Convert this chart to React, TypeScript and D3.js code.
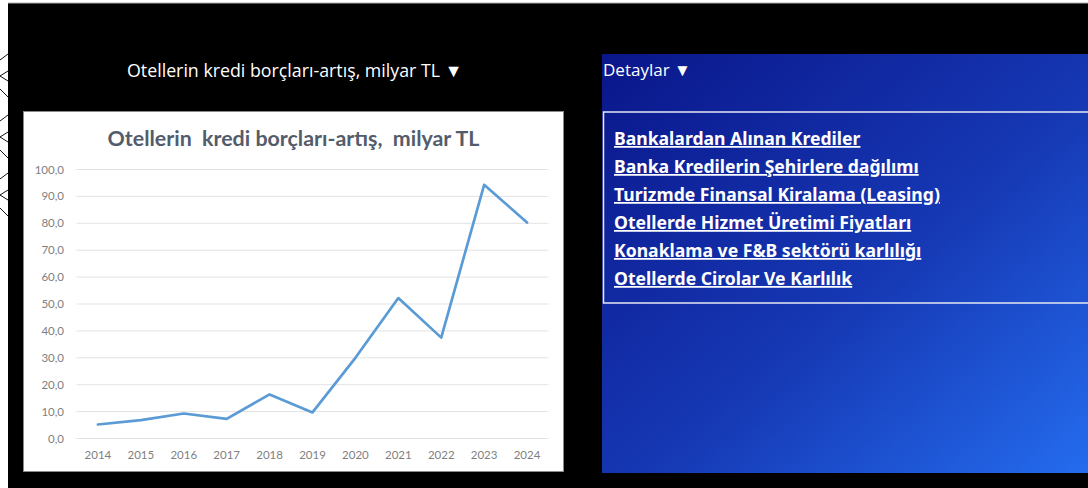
import React from 'react';
import * as d3 from 'd3';

// data
const years = ['2014', '2015', '2016', '2017', '2018', '2019', '2020', '2021', '2022', '2023', '2024'];
const debt = [5.2, 6.8, 9.3, 7.3, 16.4, 9.7, 30.0, 52.2, 37.5, 94.3, 80.3];
const yTicks = [0, 10, 20, 30, 40, 50, 60, 70, 80, 90, 100];

const headerTitle = 'Otellerin kredi borçları-artış, milyar TL ▼';
const chartTitle = 'Otellerin  kredi borçları-artış,  milyar TL';
const detailsTitle = 'Detaylar ▼';
const links = [
    'Bankalardan Alınan Krediler',
    'Banka Kredilerin Şehirlere dağılımı',
    'Turizmde Finansal Kiralama (Leasing)',
    'Otellerde Hizmet Üretimi Fiyatları',
    'Konaklama ve F&B sektörü karlılığı',
    'Otellerde Cirolar Ve Karlılık',
];

const W = 1088;
const H = 488;

// chart image box
const BOX = { x: 23.5, y: 111.5, w: 540, h: 360 };
const PLOT = { left: 76.5, right: 548.5, top: 169.5, bottom: 438.5 };

const fmt = (v: number) => v.toFixed(1).replace('.', ',');

// left margin zig-zag (three groups)
const zigCenters = [76, 137, 195];

const App = () => {
    const x = d3
        .scalePoint<string>()
        .domain(years)
        .range([PLOT.left, PLOT.right])
        .padding(0.5);
    const y = d3.scaleLinear([0, 100], [PLOT.bottom, PLOT.top]);

    const line = d3
        .line<number>()
        .x((_, i) => x(years[i]) as number)
        .y(d => y(d));

    const chartFont = 'Lato, "Open Sans", sans-serif';

    return (
        <svg
            width={W}
            height={H}
            style={{ position: 'absolute', left: 0, top: 0, display: 'block' }}
        >
            <defs>
                <linearGradient id='panelGrad' x1='0' y1='0' x2='1' y2='1'>
                    <stop offset='0%' stopColor='#0a168a' />
                    <stop offset='55%' stopColor='#1638b4' />
                    <stop offset='100%' stopColor='#246cee' />
                </linearGradient>
            </defs>
            <rect x={0} y={0} width={W} height={H} fill='#ffffff' />
            {/* zig-zag strokes in the left margin */}
            {zigCenters.map(c => (
                <g key={c} stroke='#111' strokeWidth={1} fill='none'>
                    <line x1={0} y1={c - 16} x2={8} y2={c - 22} />
                    <polyline points={`8,${c - 5} 0,${c} 8,${c + 5}`} />
                    <line x1={0} y1={c + 13} x2={8} y2={c + 21} />
                </g>
            ))}
            <rect x={8} y={3} width={W - 8} height={H - 3} fill='#000' />
            <line x1={8} y1={3} x2={W} y2={3} stroke='#b0b0b0' strokeWidth={1} />

            {/* header */}
            <text
                x={127}
                y={77}
                fill='#fff'
                fontFamily='"Open Sans", sans-serif'
                fontSize={17.8}
            >
                {headerTitle}
            </text>

            {/* chart image */}
            <rect
                x={BOX.x}
                y={BOX.y}
                width={BOX.w}
                height={BOX.h}
                fill='#fff'
                stroke='#8a8a8a'
                strokeWidth={1}
            />
            <text
                x={BOX.x + BOX.w / 2}
                y={146}
                textAnchor='middle'
                fill='#535c6b'
                fontFamily={chartFont}
                fontWeight='bold'
                fontSize={21.4}
                style={{ whiteSpace: 'pre' }}
            >
                {chartTitle}
            </text>
            {yTicks.map(t => (
                <g key={t}>
                    <line
                        x1={PLOT.left}
                        x2={PLOT.right}
                        y1={y(t)}
                        y2={y(t)}
                        stroke='#e3e3e3'
                        strokeWidth={1}
                    />
                    <text
                        x={64}
                        y={y(t)}
                        dy='0.35em'
                        textAnchor='end'
                        fill='#7f7f7f'
                        fontFamily={chartFont}
                        fontSize={11.5}
                    >
                        {fmt(t)}
                    </text>
                </g>
            ))}
            {years.map(yr => (
                <text
                    key={yr}
                    x={x(yr)}
                    y={459}
                    textAnchor='middle'
                    fill='#7f7f7f'
                    fontFamily={chartFont}
                    fontSize={11.5}
                >
                    {yr}
                </text>
            ))}
            <path
                d={line(debt) || ''}
                fill='none'
                stroke='#5b9bd5'
                strokeWidth={2.7}
                strokeLinejoin='round'
                strokeLinecap='round'
            />

            {/* details panel */}
            <rect x={602} y={54} width={W - 602} height={419} fill='url(#panelGrad)' />
            <text
                x={603}
                y={76}
                fill='#fff'
                fontFamily='"Open Sans", sans-serif'
                fontSize={17}
            >
                {detailsTitle}
            </text>
            <rect
                x={603.5}
                y={112}
                width={W}
                height={191}
                fill='none'
                stroke='#e6e8f4'
                strokeWidth={1.5}
            />
            {links.map((l, i) => (
                <text
                    key={l}
                    x={614}
                    y={145 + i * 28}
                    fill='#fff'
                    fontFamily='"Noto Sans", sans-serif'
                    fontWeight='bold'
                    fontSize={17.6}
                    style={{ textDecoration: 'underline' }}
                >
                    {l}
                </text>
            ))}
        </svg>
    );
};

export default App;
